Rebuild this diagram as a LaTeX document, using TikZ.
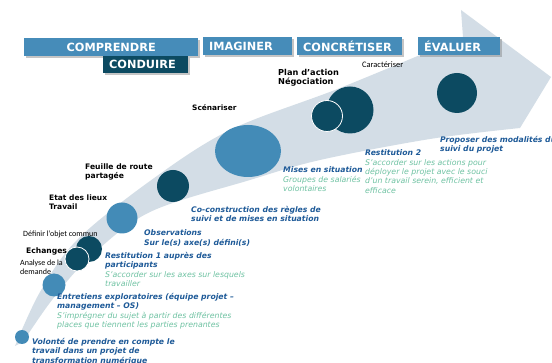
\documentclass[tikz,border=0pt]{standalone}
\usepackage{fontspec}
\setmainfont{DejaVu Sans}
\newfontfamily\narrowf{Carlito}
\usetikzlibrary{shadows,shapes.geometric}
\definecolor{bandc}{HTML}{D3DDE6}
\definecolor{boxc}{HTML}{468CB9}
\definecolor{darkc}{HTML}{0C4A61}
\definecolor{medc}{HTML}{438BB7}
\definecolor{tblue}{HTML}{1E5A98}
\definecolor{tgreen}{HTML}{6EC2A2}
\newcommand\bluetxt[1]{\textcolor{tblue}{\fontsize{7.7}{9.3}\selectfont\bfseries\itshape #1}}
\newcommand\greentxt[1]{\textcolor{tgreen}{\fontsize{7.8}{9.3}\selectfont\itshape #1}}
\begin{document}
\begin{tikzpicture}[x=1pt,y=-1pt,
  phase/.style={fill=boxc, text=white, font=\fontsize{11.3}{12}\selectfont\bfseries,
    inner xsep=6pt, inner ysep=0pt, minimum height=18pt, anchor=north west, align=left,
    drop shadow={shadow xshift=1.5pt, shadow yshift=-1.5pt, fill=black!50, opacity=0.45}},
  dkdot/.style={circle, fill=darkc, inner sep=0pt},
  mddot/.style={circle, fill=medc, inner sep=0pt},
  ringed/.style={draw=white, line width=0.8pt},
  lbl/.style={inner sep=0pt, anchor=base west, align=left, text=black},
  boldlbl/.style={lbl, font=\fontsize{7.6}{8.4}\selectfont\bfseries},
  thinlbl/.style={lbl, font=\narrowf\fontsize{8}{9}\selectfont},
  desc/.style={inner sep=0pt, anchor=base west, align=left, font=\fontsize{7.7}{9.3}\selectfont}
]
\useasboundingbox (0,0) rectangle (552,363);
\clip (0,0) rectangle (552,363);
\fill[white] (0,0) rectangle (552,363);

% swoosh arrow
\fill[bandc] plot[smooth, tension=0.55] coordinates {(15,346) (40,292) (77,240) (150,181) (230,130) (340,88) (463,37)}
  -- (461,10) -- (551,77) -- (520,128)
  -- plot[smooth, tension=0.55] coordinates {(520,128) (430,139) (320,160) (250,180) (150,212) (90,257) (52,300) (23,342)}
  -- cycle;

% phase boxes
\node[phase, text width=162pt, align=center] (comprendre) at (24,38) {COMPRENDRE};
\node[phase, fill=darkc, text width=73pt, minimum height=17pt] (conduire) at (103,56) {CONDUIRE};
\node[phase, text width=77pt] (imaginer) at (203,37) {IMAGINER};
\node[phase, text width=93pt] (concretiser) at (297,37) {CONCRÉTISER};
\node[phase, text width=70pt] (evaluer) at (418,37) {ÉVALUER};

% circles
\node[mddot, minimum size=14pt] (c1) at (22,337) {};
\node[mddot, minimum size=23pt] (c2) at (54,285) {};
\node[dkdot, minimum size=26pt] (c4) at (89,249) {};
\node[dkdot, ringed, minimum size=24pt] (c3) at (77,259) {};
\node[mddot, minimum size=31pt] (c5) at (122,218) {};
\node[dkdot, minimum size=32pt] (c6) at (173,186) {};
\node[fill=medc, ellipse, inner sep=0pt, minimum width=66pt, minimum height=52pt] (c7) at (248,151) {};
\node[dkdot, minimum size=47pt] (c8) at (350,110) {};
\node[dkdot, ringed, minimum size=31pt] (c9) at (327,116) {};
\node[dkdot, minimum size=40pt] (c10) at (457,93) {};

% black labels (anchor = baseline of last line)
\node[thinlbl, font=\narrowf\fontsize{8.4}{9}\selectfont] (caract) at (362,68) {Caractériser};
\node[boldlbl, font=\fontsize{8.2}{8.4}\selectfont\bfseries] (plan) at (278,84.1) {Plan d’action\\Négociation};
\node[boldlbl, font=\fontsize{7.4}{8.4}\selectfont\bfseries] (scen) at (192,111) {Scénariser};
\node[boldlbl] (feuille) at (85,178.4) {Feuille de route\\partagée};
\node[boldlbl, font=\fontsize{7.5}{8.4}\selectfont\bfseries] (etat) at (49,209.4) {Etat des lieux\\Travail};
\node[thinlbl] (definir) at (23,237) {Définir l’objet commun};
\node[boldlbl] (echanges) at (26,254) {Echanges};
\node[thinlbl] (analyse) at (20,275) {Analyse de la\\demande};

% descriptions
\node[desc] (d1) at (32,363.1) {\bluetxt{Volonté de prendre en compte le}\\\bluetxt{travail dans un projet de}\\\bluetxt{transformation numérique}};
\node[desc] (d2) at (57,327.4) {\bluetxt{Entretiens exploratoires (équipe projet –}\\\bluetxt{management – OS)}\\\greentxt{S’imprégner du sujet à partir des différentes}\\\greentxt{places que tiennent les parties prenantes}};
\node[desc] (d3) at (105,286.4) {\bluetxt{Restitution 1 auprès des}\\\bluetxt{participants}\\\greentxt{S’accorder sur les axes sur lesquels}\\\greentxt{travailler}};
\node[desc] (d4) at (144,245.3) {\bluetxt{Observations}\\\bluetxt{Sur le(s) axe(s) défini(s)}};
\node[desc] (d5) at (191,221.8) {\bluetxt{Co-construction des règles de}\\\bluetxt{suivi et de mises en situation}};
\node[desc] (d6) at (283,191.6) {\bluetxt{Mises en situation}\\\greentxt{Groupes de salariés}\\\greentxt{volontaires}};
\node[desc] (d7) at (365,193.2) {\bluetxt{Restitution 2}\\\greentxt{S’accorder sur les actions pour}\\\greentxt{déployer le projet avec le souci}\\\greentxt{d’un travail serein, efficient et}\\\greentxt{efficace}};
\node[desc] (d8) at (440,151.8) {\bluetxt{Proposer des modalités du}\\\bluetxt{suivi du projet}};
\end{tikzpicture}
\end{document}
